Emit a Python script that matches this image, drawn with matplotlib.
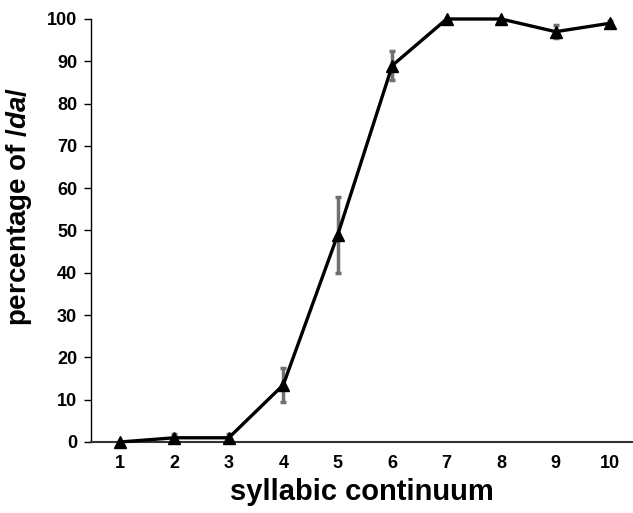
import matplotlib.pyplot as plt

plt.rcParams['font.family'] = 'Liberation Sans'
plt.rcParams['font.weight'] = 'bold'
plt.rcParams['mathtext.fontset'] = 'custom'
plt.rcParams['mathtext.it'] = 'Liberation Sans:italic:bold'
plt.rcParams['mathtext.rm'] = 'Liberation Sans:bold'

# continuum steps and identification rates
steps = [1, 2, 3, 4, 5, 6, 7, 8, 9, 10]
pct_da = [0, 1, 1, 13.5, 49, 89, 100, 100, 97, 99]
err = [0, 0.8, 0.8, 4, 9, 3.5, 0, 0, 1.5, 0.5]
yticks = [0, 10, 20, 30, 40, 50, 60, 70, 80, 90, 100]

fig = plt.figure(figsize=(6.33, 5.13), dpi=100)
ax = fig.add_axes([91 / 633, 1 - 442 / 513, 1 - 91 / 633, 423 / 513])

ax.errorbar(steps, pct_da, yerr=err, fmt='none', ecolor='#707070',
            elinewidth=2.5, capsize=2.5, capthick=2.5, zorder=2)
ax.plot(steps, pct_da, color='black', lw=2.4, marker='^', markersize=8,
        clip_on=False, zorder=3)

ax.set_xlim(0.47, 10.42)
ax.set_ylim(0, 100)
ax.set_xticks(steps)
ax.set_yticks(yticks)
ax.tick_params(axis='x', length=0, labelsize=13, pad=9)
ax.tick_params(axis='y', length=5, width=1, direction='out', labelsize=13, pad=5)
for s in ['top', 'right']:
    ax.spines[s].set_visible(False)
ax.spines['left'].set_linewidth(1)
ax.spines['bottom'].set_linewidth(1.5)
ax.spines['bottom'].set_color('#333333')

ax.set_xlabel('syllabic continuum', fontsize=21, fontweight='bold', labelpad=5)
ax.set_ylabel(r'percentage of $\mathit{/da/}$', fontsize=20, fontweight='bold')
ax.yaxis.set_label_coords(-0.105, 0.556)

fig.savefig('out.png', dpi=100)
